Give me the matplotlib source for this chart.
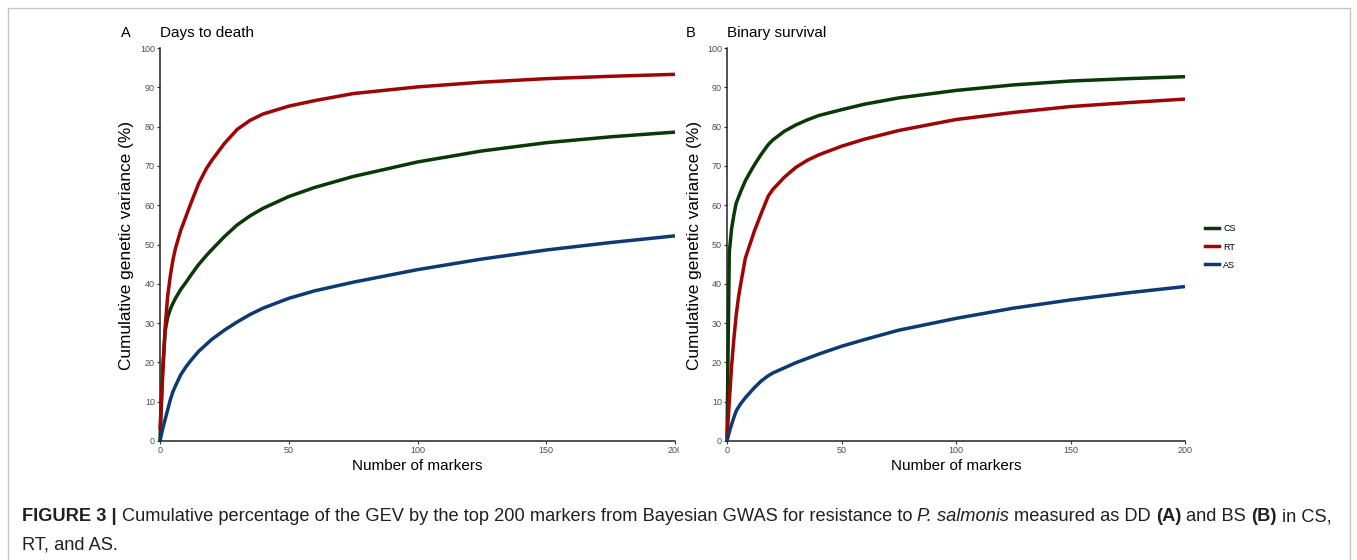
import matplotlib
matplotlib.use("Agg")
import matplotlib.pyplot as plt
from matplotlib.patches import Rectangle
from matplotlib.lines import Line2D

plt.rcParams['font.family'] = ['Liberation Sans', 'DejaVu Sans']

# ---------------- data ----------------
markers = [0, 1, 2, 3, 4, 5, 6, 8, 10, 12, 15, 18, 20, 25, 30, 35, 40, 50, 60, 75, 100, 125, 150, 175, 200]

dd_cs = [0, 18, 28, 31.5, 33.5, 35, 36.3, 38.5, 40.3, 42.2, 44.9, 47.2, 48.6, 52, 55, 57.3, 59.2, 62.2, 64.5, 67.3, 71, 73.8, 75.9, 77.4, 78.6]
dd_rt = [3, 16, 29, 37, 42, 46, 49, 53.5, 57, 60.5, 65.5, 69.3, 71.3, 75.7, 79.3, 81.6, 83.2, 85.2, 86.6, 88.4, 90.1, 91.3, 92.2, 92.8, 93.3]
dd_as = [0, 3, 5.5, 8, 10.5, 12.5, 14, 16.8, 18.8, 20.5, 22.8, 24.6, 25.8, 28.2, 30.3, 32.2, 33.8, 36.3, 38.2, 40.4, 43.6, 46.3, 48.6, 50.5, 52.2]

bs_cs = [0, 48, 54, 57.5, 60.5, 62, 63.5, 66.2, 68.3, 70.3, 73, 75.4, 76.6, 78.8, 80.4, 81.7, 82.8, 84.3, 85.7, 87.3, 89.2, 90.6, 91.6, 92.2, 92.7]
bs_rt = [1, 10, 19, 26, 32, 36.5, 40, 46.5, 50, 53.5, 58, 62.3, 64, 67.1, 69.6, 71.4, 72.8, 75, 76.8, 79, 81.8, 83.6, 85.1, 86.1, 87]
bs_as = [0, 2.3, 4.2, 6, 7.6, 8.6, 9.5, 11, 12.3, 13.6, 15.3, 16.6, 17.3, 18.6, 19.9, 21, 22.1, 24.1, 25.8, 28.2, 31.2, 33.8, 35.9, 37.7, 39.3]

populations = ['CS', 'RT', 'AS']
colors = {'CS': '#073a07', 'RT': '#a00505', 'AS': '#0c3a72'}
panel_letters = ['A', 'B']
panel_titles = ['Days to death', 'Binary survival']
x_ticks = [0, 50, 100, 150, 200]
y_ticks = [0, 10, 20, 30, 40, 50, 60, 70, 80, 90, 100]
xlabel = 'Number of markers'
ylabel = 'Cumulative genetic variance (%)'

# ---------------- figure ----------------
W, H = 1357, 560
fig = plt.figure(figsize=(W / 100, H / 100), dpi=100)

def fx(px):
    return px / W

def fy(py):
    return 1 - py / H

ax_boxes = [(160, 675), (727, 1185)]
top_px, bot_px = 48, 441
series = [dict(CS=dd_cs, RT=dd_rt, AS=dd_as), dict(CS=bs_cs, RT=bs_rt, AS=bs_as)]

for i, (l, r) in enumerate(ax_boxes):
    ax = fig.add_axes([fx(l), fy(bot_px), fx(r - l), (bot_px - top_px) / H])
    for pop in populations:
        ax.plot(markers, series[i][pop], color=colors[pop], lw=2.5,
                solid_capstyle='butt', solid_joinstyle='round', clip_on=False, zorder=3)
    ax.set_xlim(0, 200)
    ax.set_ylim(0, 100)
    ax.set_xticks(x_ticks)
    ax.set_yticks(y_ticks)
    for s in ['top', 'right']:
        ax.spines[s].set_visible(False)
    for s in ['left', 'bottom']:
        ax.spines[s].set_linewidth(1.1)
        ax.spines[s].set_color('#222222')
    ax.tick_params(length=2.2, width=0.8, color='#333333', labelsize=6.5,
                   labelcolor='#4d4d4d', pad=1.5)
    # axis labels
    fig.text(fx((l + r) / 2), fy(465.5), xlabel, ha='center', va='center', fontsize=11)
    fig.text(fx(l - 33), fy(245), ylabel, ha='center', va='center', rotation=90, fontsize=12.4)
    # panel letter and title
    fig.text(fx(l - 39 if i == 0 else l - 41), fy(33), panel_letters[i], ha='left', va='center', fontsize=10.5)
    fig.text(fx(l), fy(33), panel_titles[i], ha='left', va='center', fontsize=11)

# clip of last x tick label in panel A (as in the reference)
fig.patches.append(Rectangle((fx(678.5), fy(458)), fx(14), 14 / H, transform=fig.transFigure,
                             facecolor='white', edgecolor='none', zorder=10))

# legend
handles = [Line2D([0], [0], color=colors[p], lw=2.5) for p in populations]
fig.legend(handles, populations, loc='center left', bbox_to_anchor=(fx(1205), fy(247)),
           frameon=False, fontsize=6.5, handlelength=1.6, handletextpad=0.4,
           labelspacing=1.0, borderpad=0, borderaxespad=0)

# outer frame
fig.patches.append(Rectangle((fx(8), -0.05), fx(1342), fy(8) + 0.05, transform=fig.transFigure,
                             facecolor='none', edgecolor='#c4c4c4', lw=1.0, zorder=0))

# caption with mixed styles
line1 = [("FIGURE 3 |", 'bold', 'normal'),
         ("Cumulative percentage of the GEV by the top 200 markers from Bayesian GWAS for resistance to", 'normal', 'normal'),
         ("P. salmonis", 'normal', 'italic'),
         ("measured as DD", 'normal', 'normal'),
         ("(A)", 'bold', 'normal'),
         ("and BS", 'normal', 'normal'),
         ("(B)", 'bold', 'normal'),
         ("in CS,", 'normal', 'normal')]
line2 = [("RT, and AS.", 'normal', 'normal')]

renderer = fig.canvas.get_renderer()

def draw_line(pieces, x0, ypx, fs, draw=True):
    x = x0
    artists = []
    space = fs * 100 / 72 * 0.278
    for k, (s, w, st) in enumerate(pieces):
        t = fig.text(fx(x), fy(ypx), s, fontsize=fs, fontweight=w, fontstyle=st,
                     ha='left', va='baseline', color='#231f20')
        bb = t.get_window_extent(renderer)
        artists.append(t)
        x += bb.width + space
    if not draw:
        for t in artists:
            t.remove()
    return x - space - x0

base_fs = 12.0
w = draw_line(line1, 22, 521, base_fs, draw=False)
cap_fs = base_fs * (1333 - 22) / w
draw_line(line1, 22, 521, cap_fs)
draw_line(line2, 22, 550, cap_fs)

fig.savefig('out.png', dpi=100)
